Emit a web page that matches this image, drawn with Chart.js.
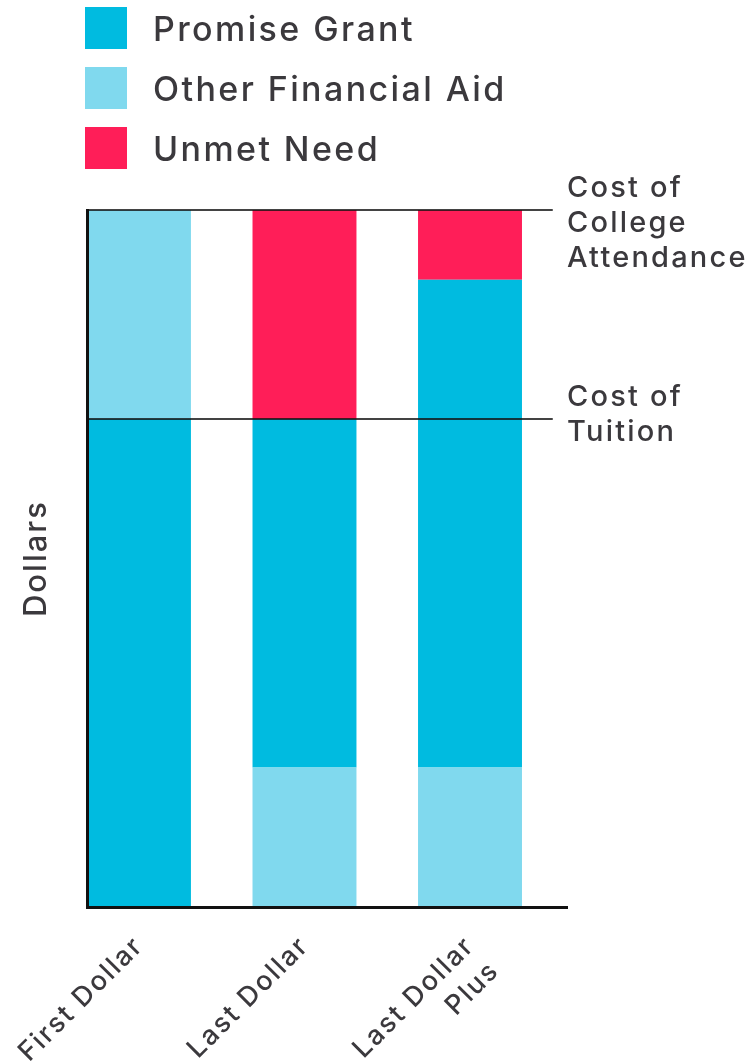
<!DOCTYPE html>
<html lang="en">
<head>
    <meta charset="UTF-8">
    <title>Promise Program Models</title>
    <script src="https://cdn.jsdelivr.net/npm/chart.js"></script>
    <style>
        body { margin: 0; background: #fff; font-family: Inter, sans-serif; }
        #wrap { position: relative; width: 750px; height: 1064px; }
        #legend { position: absolute; left: 85px; top: 7px; }
        .item { display: flex; align-items: center; height: 42px; margin-bottom: 18px; }
        .box { width: 42px; height: 42px; margin-right: 26px; }
        .item span { font-size: 34px; font-weight: 500; letter-spacing: 2.4px; color: #3b393d; }
    </style>
</head>
<body>
<div id="wrap">
    <canvas id="chart"></canvas>
    <div id="legend"></div>
</div>
<script>
    // data (units: share of cost of attendance, tuition = 70)
    const categories = ['First Dollar', 'Last Dollar', ['Last Dollar', 'Plus']];
    const otherAidBottom = [0, 20, 20];
    const promiseGrant = [70, 50, 70];
    const otherAidTop = [30, 0, 0];
    const unmetNeed = [0, 30, 10];
    const costLabels = [['Cost of', 'College', 'Attendance'], ['Cost of', 'Tuition']];
    const costValues = [100, 70];
    const legendNames = ['Promise Grant', 'Other Financial Aid', 'Unmet Need'];

    const BLUE = '#00bbe0', LIGHT = '#80d9ee', RED = '#ff1e58', TEXT = '#3b393d';
    const FONT = 'Inter';
    const legendColors = [BLUE, LIGHT, RED];
    const xMin = -0.314, xMax = 2.586;

    let legend = document.getElementById('legend');
    legendNames.forEach((n, i) => {
        legend.innerHTML += '<div class="item"><div class="box" style="background:' + legendColors[i] + '"></div><span>' + n + '</span></div>';
    });

    const pts = arr => arr.map((v, i) => ({ x: i, y: v }));

    // wide tracking like the original typeface
    const spacingPlugin = {
        id: 'spacing',
        beforeDraw(chart) { chart.ctx.letterSpacing = '2px'; }
    };

    const costLinesPlugin = {
        id: 'costLines',
        afterDatasetsDraw(chart) {
            const ctx = chart.ctx, x = chart.scales.x, y = chart.scales.y;
            const right = x.getPixelForValue(categories.length - 0.5);
            ctx.save();
            costValues.forEach((v, i) => {
                const py = y.getPixelForValue(v);
                ctx.strokeStyle = 'rgba(20,20,20,0.8)';
                ctx.lineWidth = 2;
                ctx.beginPath();
                ctx.moveTo(chart.chartArea.left, py);
                ctx.lineTo(right, py);
                ctx.stroke();
                ctx.fillStyle = TEXT;
                ctx.font = '500 29px ' + FONT;
                ctx.letterSpacing = '2.2px';
                ctx.textBaseline = 'alphabetic';
                costLabels[i].forEach((t, j) => ctx.fillText(t, x.right, py - 13 + j * 35));
            });
            ctx.restore();
        }
    };

    let ctx = document.getElementById('chart').getContext('2d');
    let chart = new Chart(ctx, {
        type: 'bar',
        data: {
            datasets: [
                { label: 'Other Financial Aid', data: pts(otherAidBottom), backgroundColor: LIGHT },
                { label: 'Promise Grant', data: pts(promiseGrant), backgroundColor: BLUE },
                { label: 'Other Financial Aid', data: pts(otherAidTop), backgroundColor: LIGHT },
                { label: 'Unmet Need', data: pts(unmetNeed), backgroundColor: RED }
            ]
        },
        options: {
            responsive: true,
            maintainAspectRatio: false,
            animation: false,
            layout: { padding: { top: 210, right: 183, left: 0, bottom: 0 } },
            datasets: { bar: { categoryPercentage: 0.628, barPercentage: 1, borderWidth: 0 } },
            plugins: { legend: { display: false }, tooltip: { enabled: false } },
            scales: {
                x: {
                    type: 'linear',
                    stacked: true,
                    offset: false,
                    bounds: 'data',
                    min: xMin,
                    max: xMax,
                    grid: { display: false, drawTicks: false, offset: false },
                    border: { display: true, color: '#111', width: 3, z: 1 },
                    afterBuildTicks: s => {
                        s.ticks = categories.map((c, i) => ({ value: i }));
                        s.min = xMin;
                        s.max = xMax;
                    },
                    afterFit: s => { s.height = 157; },
                    ticks: {
                        autoSkip: false,
                        minRotation: 45,
                        maxRotation: 45,
                        padding: 22,
                        color: TEXT,
                        font: { family: FONT, size: 27, weight: 500, lineHeight: 1.3 },
                        callback: v => categories[v]
                    }
                },
                y: {
                    stacked: true,
                    min: 0,
                    max: 100,
                    grid: { display: false },
                    border: { display: true, color: '#111', width: 3, z: 1 },
                    ticks: { display: false },
                    afterFit: s => { s.width = 87; },
                    title: {
                        display: true,
                        text: 'Dollars',
                        color: TEXT,
                        padding: { top: 18, bottom: 0 },
                        font: { family: FONT, size: 31, weight: 500, lineHeight: 1.2 }
                    }
                }
            }
        },
        plugins: [spacingPlugin, costLinesPlugin]
    });
</script>
</body>
</html>
